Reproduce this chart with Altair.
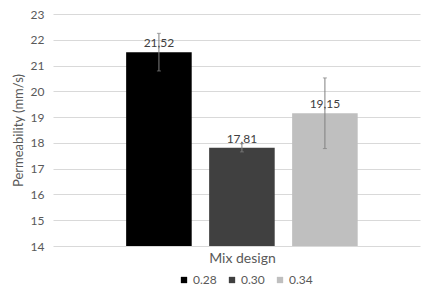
import altair as alt
import pandas as pd

mixes = ["0.28", "0.30", "0.34"]
values = [21.52, 17.81, 19.15]
errors = [0.73, 0.16, 1.37]
colors = ["#000000", "#404040", "#bfbfbf"]

df = pd.DataFrame({"mix": mixes, "value": values, "err": errors})
df["lo"] = df["value"] - df["err"]
df["hi"] = df["value"] + df["err"]

FONT = "Lato"
GRAY = "#595959"

yscale = alt.Scale(domain=[14, 23], nice=False, zero=False)
xscale = alt.Scale(domain=mixes, paddingInner=0.21, paddingOuter=0.816, align=0.54)

xaxis = alt.Axis(labels=False, ticks=False, domain=False, title="Mix design",
                 titleFont=FONT, titleFontSize=14, titleFontWeight="normal",
                 titleColor=GRAY, titlePadding=5, titleX=189, titleAlign="center")
yaxis = alt.Axis(values=list(range(14, 24)), domain=False, ticks=False,
                 grid=True, gridColor="#d9d9d9", gridWidth=1,
                 labelFont=FONT, labelFontSize=12, labelColor=GRAY, labelPadding=9,
                 labelOverlap=False,
                 title="Permeability (mm/s)", titleFont=FONT, titleFontSize=13,
                 titleFontWeight="normal", titleColor=GRAY, titlePadding=5)

base = alt.Chart(df)

bars = base.mark_bar().encode(
    x=alt.X("mix:N", scale=xscale, axis=xaxis),
    y=alt.Y("value:Q", scale=yscale, axis=yaxis),
    y2=alt.datum(14),
    color=alt.Color("mix:N", scale=alt.Scale(domain=mixes, range=colors),
                    legend=alt.Legend(title=None, orient="none", direction="horizontal",
                                      legendX=125, legendY=260, symbolType="square",
                                      symbolSize=40, labelFont=FONT, labelFontSize=12,
                                      labelColor=GRAY, columnPadding=9, labelOffset=3,
                                      symbolStrokeWidth=0)),
)

rules = base.mark_rule(color="#7f7f7f", strokeWidth=1).encode(
    x=alt.X("mix:N", scale=xscale, axis=xaxis),
    y=alt.Y("lo:Q", scale=yscale, axis=yaxis),
    y2="hi:Q",
)
caps_hi = base.mark_tick(color="#7f7f7f", size=4, thickness=1, orient="horizontal").encode(
    x=alt.X("mix:N", scale=xscale, axis=xaxis),
    y=alt.Y("hi:Q", scale=yscale, axis=yaxis),
)
caps_lo = base.mark_tick(color="#7f7f7f", size=4, thickness=1, orient="horizontal").encode(
    x=alt.X("mix:N", scale=xscale, axis=xaxis),
    y=alt.Y("lo:Q", scale=yscale, axis=yaxis),
)

labels = base.transform_calculate(
    lab="replace(format(datum.value, '.2f'), '.', ',')"
).mark_text(font=FONT, fontSize=12, color="#404040", dy=-9).encode(
    x=alt.X("mix:N", scale=xscale, axis=xaxis),
    y=alt.Y("value:Q", scale=yscale, axis=yaxis),
    text="lab:N",
)

chart = alt.layer(bars, rules, caps_hi, caps_lo, labels).properties(
    width=367, height=232,
    autosize=alt.AutoSizeParams(type="none"),
    padding={"left": 45, "top": 6, "right": 4, "bottom": 43},
).configure_view(stroke=None)

chart.save("out.html", embed_options={"renderer": "svg", "actions": False})
